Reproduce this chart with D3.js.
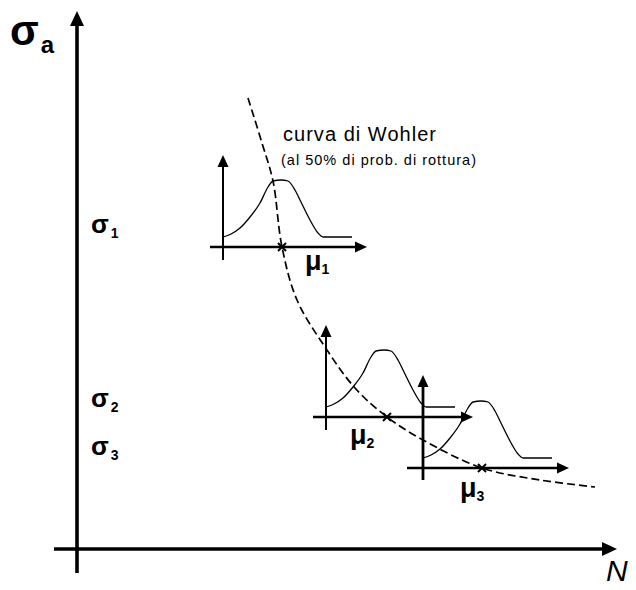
<!DOCTYPE html>
<html>
<head>
<meta charset="utf-8">
<script src="https://cdn.jsdelivr.net/npm/d3@7"></script>
<style>
  html, body { margin: 0; padding: 0; background: #fff; }
  svg { display: block; }
  text { font-family: "Liberation Sans", Arial, sans-serif; fill: #000; }
</style>
</head>
<body>
<svg id="chart" width="636" height="590"></svg>
<script>
// ---- data (diagram units: N to the right, sigma_a upward) ----
const axisN = { from: -23, to: 540 };          // main N axis extent
const axisS = { from: -24, to: 538 };          // main sigma_a axis extent

// Wohler curve (50% probability of failure)
const wohlerN = [171, 185, 196, 205, 220, 248, 278, 310, 346, 405, 463, 518];
const wohlerS = [451, 406, 368, 302, 249, 202, 161, 132, 109, 81, 69, 62];

// Insets: origin of each local distribution diagram, and its mean (mu) offset
const insetN   = [146, 249, 346];
const insetS   = [302, 132, 81];
const insetMu  = [59, 61, 59];
const insetLeft  = [-13, -13, -16];
const insetRight = [144, 147, 146];
const insetDown  = [-13, -13, -12];
const insetUp    = [92, 92, 93];

// Distribution shape (local units: dx along N, dy density)
const shapeX = [0, 8, 17, 27, 37, 45, 50, 58, 65, 72, 77, 87, 95, 100, 129];
const shapeY = [10, 13, 19, 30, 44, 60, 66, 67, 66, 57, 47, 27, 14, 10, 10];

// Labels
const sigmaSubs   = ["1", "2", "3"];
const sigmaLevels = [316, 142, 94];
const muSubs      = ["1", "2", "3"];
const muN         = [228, 273, 383];
const muS         = [279, 105, 52];

// ---- drawing ----
const svg = d3.select("#chart");
const x = d3.scaleLinear().domain([0, 540]).range([77, 617]);
const y = d3.scaleLinear().domain([0, 540]).range([549, 9]);

function arrowHead(g, tipX, tipY, dir, len, half) {
  let pts;
  if (dir === "right") pts = [[tipX, tipY], [tipX - len, tipY - half], [tipX - len, tipY + half]];
  else pts = [[tipX, tipY], [tipX - half, tipY + len], [tipX + half, tipY + len]];
  g.append("path").attr("d", d3.line()(pts) + "Z").attr("fill", "#000");
}

// Main axes
const main = svg.append("g");
main.append("line")
  .attr("x1", x(axisN.from)).attr("x2", x(axisN.to) - 10)
  .attr("y1", y(0)).attr("y2", y(0))
  .attr("stroke", "#000").attr("stroke-width", 3.6);
arrowHead(main, x(axisN.to), y(0), "right", 15, 7);
main.append("line")
  .attr("x1", x(0)).attr("x2", x(0))
  .attr("y1", y(axisS.from)).attr("y2", y(axisS.to) + 10)
  .attr("stroke", "#000").attr("stroke-width", 3.6);
arrowHead(main, x(0), y(axisS.to), "up", 15, 7);

// Insets
const shapeLine = d3.line().curve(d3.curveMonotoneX);
insetN.forEach((ox, i) => {
  const oy = insetS[i];
  const g = svg.append("g");
  const pts = shapeX.map((dx, k) => [x(ox + dx), y(oy + shapeY[k])]);
  g.append("path").attr("d", shapeLine(pts))
    .attr("fill", "none").attr("stroke", "#000").attr("stroke-width", 1.3);
  g.append("line")
    .attr("x1", x(ox + insetLeft[i])).attr("x2", x(ox + insetRight[i]) - 8)
    .attr("y1", y(oy)).attr("y2", y(oy))
    .attr("stroke", "#000").attr("stroke-width", 2.4);
  arrowHead(g, x(ox + insetRight[i]), y(oy), "right", 12, 5.5);
  g.append("line")
    .attr("x1", x(ox)).attr("x2", x(ox))
    .attr("y1", y(oy + insetDown[i])).attr("y2", y(oy + insetUp[i]) + 8)
    .attr("stroke", "#000").attr("stroke-width", i === 2 ? 2.8 : 2);
  arrowHead(g, x(ox), y(oy + insetUp[i]), "up", 12, 5.5);
});

// Wohler dashed curve
const wPts = wohlerN.map((n, k) => [x(n), y(wohlerS[k])]);
svg.append("path")
  .attr("d", d3.line().curve(d3.curveCatmullRom)(wPts))
  .attr("fill", "none").attr("stroke", "#000")
  .attr("stroke-width", 1.7).attr("stroke-dasharray", "8,4");

// cross markers at the means
insetN.forEach((ox, i) => {
  const cx = x(ox + insetMu[i]), cy = y(insetS[i]);
  svg.append("path")
    .attr("d", `M${cx - 4},${cy - 4}L${cx + 4},${cy + 4}M${cx - 4},${cy + 4}L${cx + 4},${cy - 4}`)
    .attr("stroke", "#000").attr("stroke-width", 2);
});

// Axis titles
const ts = svg.append("text").attr("x", 10).attr("y", 45)
  .attr("font-size", 42).attr("font-weight", "bold");
ts.append("tspan").text("σ");
ts.append("tspan").attr("font-size", 24).attr("dy", 8).attr("dx", 2).text("a");

svg.append("text").attr("x", 606).attr("y", 581)
  .attr("font-size", 30).attr("font-style", "italic").text("N");

// sigma level labels
sigmaSubs.forEach((s, i) => {
  const t = svg.append("text").attr("x", x(0) + 14).attr("y", y(sigmaLevels[i]))
    .attr("font-size", 26).attr("font-weight", "bold");
  t.append("tspan").text("σ");
  t.append("tspan").attr("font-size", 14).attr("dy", 5).attr("dx", 2).text(s);
});

// mu labels
muSubs.forEach((s, i) => {
  const t = svg.append("text").attr("x", x(muN[i])).attr("y", y(muS[i]))
    .attr("font-size", 27).attr("font-weight", "bold");
  t.append("tspan").text("μ");
  t.append("tspan").attr("font-size", 14).attr("dy", 4).text(s);
});

// Wohler curve caption
svg.append("text").attr("x", 283).attr("y", 141)
  .attr("font-size", 20).attr("textLength", 153).attr("lengthAdjust", "spacing")
  .text("curva di Wohler");
svg.append("text").attr("x", 281).attr("y", 165)
  .attr("font-size", 14.5).attr("textLength", 195).attr("lengthAdjust", "spacing")
  .text("(al 50% di prob. di rottura)");
</script>
</body>
</html>
